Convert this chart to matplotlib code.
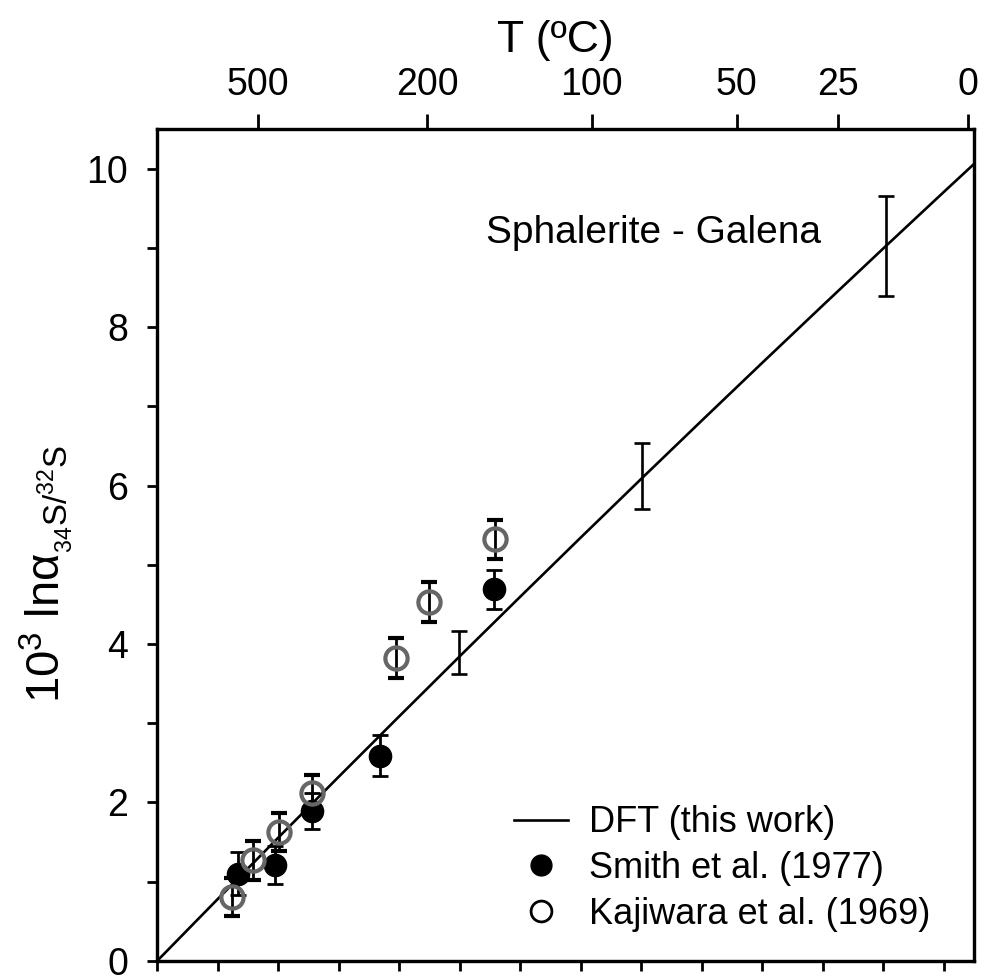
import numpy as np
import matplotlib
matplotlib.use("Agg")
import matplotlib.pyplot as plt
from matplotlib.lines import Line2D

plt.rcParams['font.family'] = ['Liberation Sans', 'DejaVu Sans']
plt.rcParams['mathtext.fontset'] = 'custom'
plt.rcParams['mathtext.rm'] = 'Liberation Sans'
plt.rcParams['mathtext.it'] = 'Liberation Sans:italic'
plt.rcParams['mathtext.sf'] = 'Liberation Sans'

# x axis is 10^6/T^2 (T in K)
# DFT curve
dft_x = [0, 1, 2, 3, 4, 5, 6, 7, 8, 9, 10, 11, 12, 13, 13.5]
dft_y = [0, 0.780, 1.555, 2.324, 3.087, 3.845, 4.597, 5.344, 6.085,
         6.820, 7.550, 8.274, 8.993, 9.706, 10.060]

# DFT uncertainty bars
dft_err_x = [4.98, 8.01, 12.04]
dft_err_y = [3.89, 6.12, 9.02]
dft_err = [0.27, 0.42, 0.63]

# Smith et al. (1977)
smith_x = [1.33, 1.94, 2.56, 3.68, 5.57]
smith_y = [1.10, 1.21, 1.89, 2.59, 4.69]
smith_err = [0.27, 0.24, 0.23, 0.26, 0.25]

# Kajiwara et al. (1969)
kaji_x = [1.235, 1.59, 2.01, 2.56, 3.94, 4.50, 5.59]
kaji_y = [0.81, 1.27, 1.63, 2.12, 3.82, 4.53, 5.32]
kaji_err = [0.24, 0.25, 0.24, 0.23, 0.25, 0.25, 0.25]

# top axis temperatures (deg C)
top_T = [500, 200, 100, 50, 25, 0]

fig = plt.figure(figsize=(9.88, 9.77), dpi=100)
ax = fig.add_axes([0.159, 0.0164, 0.827, 0.8516])

ax.plot(dft_x, dft_y, color='black', lw=1.9, zorder=2)
ax.errorbar(dft_err_x, dft_err_y, yerr=dft_err, fmt='none', ecolor='black',
            elinewidth=1.9, capsize=6, capthick=1.9, zorder=3)
ax.errorbar(smith_x, smith_y, yerr=smith_err, fmt='o', color='black', ms=16,
            mfc='black', mec='black', ecolor='black', elinewidth=2,
            capsize=6, capthick=2, zorder=4)
ax.errorbar(kaji_x, kaji_y, yerr=kaji_err, fmt='o', ms=16, mfc='none',
            mec='0.4', mew=3, ecolor='black', elinewidth=2,
            capsize=6, capthick=2, zorder=4)

ax.set_xlim(0, 13.5)
ax.set_ylim(0, 10.5)
ax.set_xticks(np.arange(0, 14, 1))
ax.set_xticklabels([])
ax.set_yticks(np.arange(0, 11, 1))
ax.set_yticklabels([str(v) if v % 2 == 0 else '' for v in range(11)])
ax.tick_params(direction='out', length=7, width=2, labelsize=27, pad=14)
for s in ax.spines.values():
    s.set_linewidth(2.3)

ax.text(8.21, 9.19, 'Sphalerite - Galena', fontsize=28, ha='center', va='center')

ax.set_ylabel(r'$\mathrm{10^3\ ln\alpha_{{}_{34}S/^{32}S}}$', fontsize=34)
ax.yaxis.set_label_coords(-0.1, 0.465)

top = ax.twiny()
top.set_xlim(ax.get_xlim())
top.set_xticks([1e6 / (t + 273.15) ** 2 for t in top_T])
top.set_xticklabels([str(t) for t in top_T])
top.tick_params(direction='out', length=11, width=2, labelsize=27, pad=8)
top.set_xlabel('T (ºC)', fontsize=32)
top.xaxis.set_label_coords(0.487, 1.092)
for s in top.spines.values():
    s.set_linewidth(2.3)

handles = [Line2D([], [], color='black', lw=1.9),
           Line2D([], [], ls='none', marker='o', ms=15, color='black'),
           Line2D([], [], ls='none', marker='o', ms=15, mfc='none',
                  mec='black', mew=2)]
labels = ['DFT (this work)', 'Smith et al. (1977)', 'Kajiwara et al. (1969)']
ax.legend(handles, labels, loc='lower right', bbox_to_anchor=(0.947, 0.035),
          frameon=False, fontsize=26, handlelength=1.5, handletextpad=0.6,
          labelspacing=0.3, borderpad=0, borderaxespad=0)

fig.savefig('out.png', dpi=100)
